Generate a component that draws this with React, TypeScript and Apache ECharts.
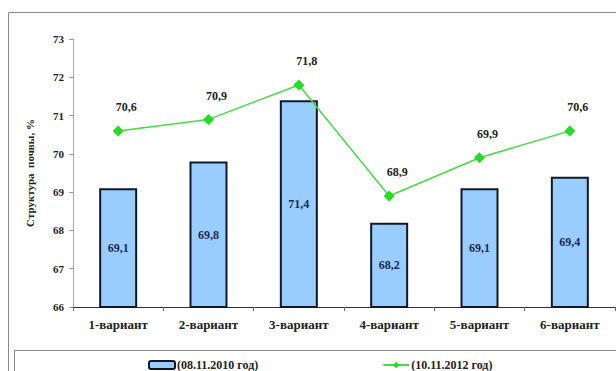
import React, { useEffect, useRef } from "react";
import * as echarts from "echarts";

const categories = ["1-вариант", "2-вариант", "3-вариант", "4-вариант", "5-вариант", "6-вариант"];
const values2010 = [69.1, 69.8, 71.4, 68.2, 69.1, 69.4];
const values2012 = [70.6, 70.9, 71.8, 68.9, 69.9, 70.6];
const seriesNames = ["(08.11.2010 год)", "(10.11.2012 год)"];
const yTicks = { min: 66, max: 73, interval: 1 };

const FONT = "Times New Roman, Liberation Serif, serif";
const fmt = (v: number) => v.toFixed(1).replace(".", ",");

export default function App() {
  const ref = useRef<HTMLDivElement>(null);
  useEffect(() => {
    if (!ref.current) return;
    const chart = echarts.init(ref.current, null, { renderer: "svg" });
    chart.setOption({
      animation: false,
      backgroundColor: "#ffffff",
      textStyle: { fontFamily: FONT },
      graphic: [
        {
          type: "rect",
          shape: { x: 8.5, y: 12.5, width: 640, height: 400 },
          style: { fill: "none", stroke: "#8a8a8a", lineWidth: 1 },
          silent: true,
          z: -1,
        },
        {
          type: "rect",
          shape: { x: 14.5, y: 350.5, width: 640, height: 60 },
          style: { fill: "none", stroke: "#8a8a8a", lineWidth: 1 },
          silent: true,
          z: -1,
        },
      ],
      grid: { left: 73, right: 1, top: 39, bottom: 64, containLabel: false },
      legend: {
        left: 143,
        top: 354,
        itemGap: 124,
        itemWidth: 26,
        itemHeight: 8,
        textStyle: { fontFamily: FONT, fontSize: 12, fontWeight: "bold", color: "#222", padding: [0, 0, 0, -3] },
        data: [
          { name: seriesNames[0], icon: "roundRect" },
          { name: seriesNames[1] },
        ],
      },
      xAxis: {
        type: "category",
        data: categories,
        axisLine: { lineStyle: { color: "#333", width: 1 } },
        axisTick: { show: true, length: 4, lineStyle: { color: "#666" } },
        axisLabel: { fontFamily: FONT, fontSize: 13, fontWeight: "bold", color: "#222", margin: 11 },
      },
      yAxis: {
        type: "value",
        min: yTicks.min,
        max: yTicks.max,
        interval: yTicks.interval,
        name: "Структура  почвы, %",
        nameLocation: "middle",
        nameGap: 38,
        nameTextStyle: { fontFamily: FONT, fontSize: 11, fontWeight: "bold", color: "#222" },
        axisLine: { show: true, lineStyle: { color: "#aaa", width: 1 } },
        axisTick: { show: true, length: 4, lineStyle: { color: "#999" } },
        splitLine: { show: false },
        axisLabel: { fontFamily: FONT, fontSize: 11, fontWeight: "bold", color: "#222", margin: 9 },
      },
      series: [
        {
          name: seriesNames[0],
          type: "bar",
          data: values2010,
          barWidth: 38,
          itemStyle: { color: "#99CCFF", borderColor: "#101828", borderWidth: 2 },
          label: {
            show: true,
            position: "inside",
            formatter: (p: any) => fmt(p.value),
            fontFamily: FONT,
            fontSize: 12,
            fontWeight: "bold",
            color: "#1c2a50",
          },
          z: 2,
        },
        {
          name: seriesNames[1],
          type: "line",
          data: values2012,
          symbol: "diamond",
          symbolSize: 11,
          lineStyle: { color: "#44DD44", width: 1.5 },
          itemStyle: { color: "#22DD22" },
          label: {
            show: true,
            position: "top",
            distance: 12,
            offset: [8, 0],
            formatter: (p: any) => fmt(p.value),
            fontFamily: FONT,
            fontSize: 12,
            fontWeight: "bold",
            color: "#222",
          },
          z: 3,
        },
      ],
    });
    return () => chart.dispose();
  }, []);
  return (
    <div
      ref={ref}
      style={{ position: "fixed", left: 0, top: 0, width: 616, height: 371 }}
    />
  );
}
